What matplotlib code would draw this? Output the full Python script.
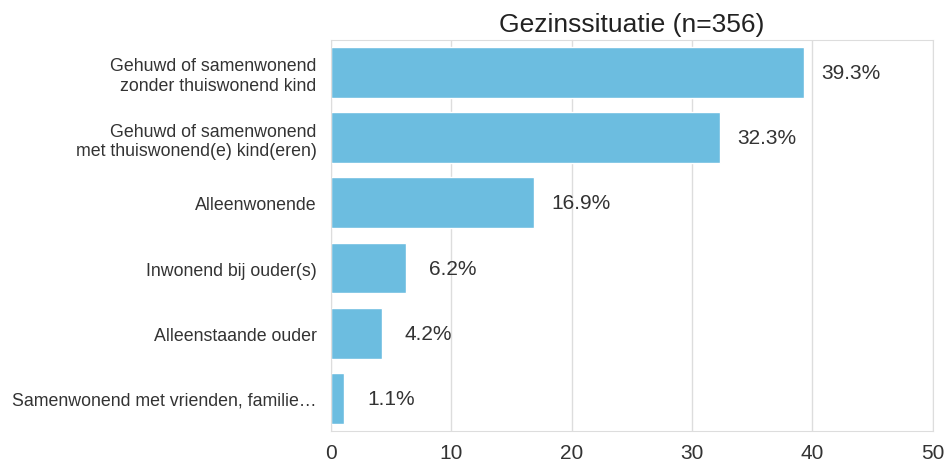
import matplotlib
matplotlib.use('Agg')
import matplotlib.pyplot as plt
import seaborn as sns

# Gegevens
categorieen = [
    'Gehuwd of samenwonend\nzonder thuiswonend kind',
    'Gehuwd of samenwonend\nmet thuiswonend(e) kind(eren)',
    'Alleenwonende',
    'Inwonend bij ouder(s)',
    'Alleenstaande ouder',
    'Samenwonend met vrienden, familie\u2026',
]
percentages = [39.3, 32.3, 16.9, 6.2, 4.2, 1.1]
x_ticks = [0, 10, 20, 30, 40, 50]

sns.set_style('whitegrid')
plt.rcParams['font.family'] = ['Liberation Sans', 'DejaVu Sans']

fig, ax = plt.subplots(figsize=(9.46, 4.64), dpi=100)
fig.subplots_adjust(left=0.35, right=0.986, top=0.912, bottom=0.069)

pos = list(range(len(categorieen)))
ax.barh(pos, percentages, height=0.78, color='#6cbde0')
ax.set_ylim(len(categorieen) - 0.5, -0.5)
ax.set_xlim(0, 50)
ax.set_xticks(x_ticks)
ax.set_yticks(pos)
ax.set_yticklabels(categorieen, fontsize=12.8, color='#333333')
ax.tick_params(axis='x', labelsize=15, colors='#333333', pad=5)
ax.tick_params(axis='y', pad=7)
ax.grid(axis='y', visible=False)
ax.grid(axis='x', color='#dddddd', linewidth=1)
for s in ax.spines.values():
    s.set_color('#dddddd')

for p, v in zip(pos, percentages):
    ax.text(v + 3.9, p, f'{v}%', ha='center', va='center', fontsize=15, color='#333333')

ax.set_title('Gezinssituatie (n=356)', fontsize=19, color='#222222', pad=6)

plt.savefig('out.png', dpi=100)
